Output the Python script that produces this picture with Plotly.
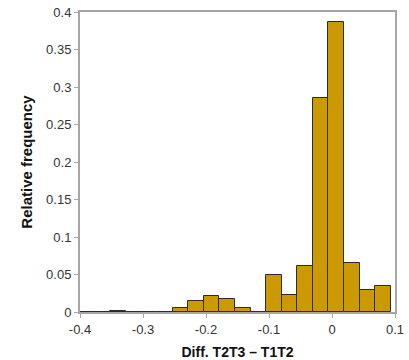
import plotly.graph_objects as go

# Histogram bins (left edges, width) and relative frequencies
bin_start = -0.4011
bin_width = 0.02471
rel_freq = [0.0, 0.0, 0.002, 0.0, 0.0, 0.0, 0.0049, 0.0151, 0.0209, 0.0178,
            0.0049, 0.0, 0.0494, 0.0231, 0.0618, 0.286, 0.3866, 0.065, 0.0289, 0.0351]

centers = [bin_start + (i + 0.5) * bin_width for i in range(len(rel_freq))]

x_ticks = [-0.4, -0.3, -0.2, -0.1, 0, 0.1]
x_ticktext = ["-0.4", "-0.3", "-0.2", "-0.1", "0", "0.1"]
y_ticks = [0, 0.05, 0.1, 0.15, 0.2, 0.25, 0.3, 0.35, 0.4]
y_ticktext = ["0", "0.05", "0.1", "0.15", "0.2", "0.25", "0.3", "0.35", "0.4"]

fig = go.Figure()
fig.add_trace(go.Bar(
    x=centers, y=rel_freq, width=[bin_width] * len(rel_freq),
    marker=dict(color="#CC9900", line=dict(color="#2b2b2b", width=1)),
    showlegend=False, hoverinfo="skip",
))

axis_common = dict(
    showgrid=False, zeroline=False, showline=True, linecolor="#a6a6a6", linewidth=2,
    mirror=True, ticks="outside", ticklen=4, tickcolor="#a6a6a6", tickwidth=1,
    automargin=False,
    tickfont=dict(family="Liberation Sans, Arial", size=13, color="#333333"),
)

fig.update_layout(
    width=409, height=360,
    margin=dict(l=80, r=14, t=12, b=48),
    plot_bgcolor="white", paper_bgcolor="white",
    bargap=0,
    xaxis=dict(range=[-0.4, 0.1], tickvals=x_ticks, ticktext=x_ticktext,
               title=dict(text="<b>Diff. T2T3 – T1T2</b>", standoff=12,
                          font=dict(family="Liberation Sans, Arial", size=14, color="#111111")),
               **axis_common),
    yaxis=dict(range=[0, 0.4], tickvals=y_ticks, ticktext=y_ticktext,
               title=dict(text="<b>Relative frequency</b>", standoff=10,
                          font=dict(family="Liberation Sans, Arial", size=15, color="#111111")),
               **axis_common),
)

fig.write_html("out.html")
